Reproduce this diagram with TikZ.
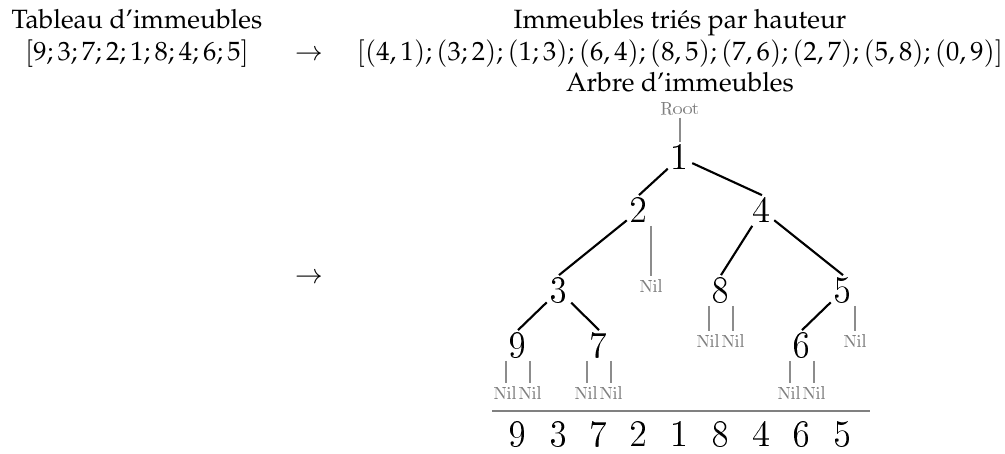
\documentclass[tikz,border=0pt]{standalone}
\usepackage[T1]{fontenc}
\usepackage{mathpazo}
\usetikzlibrary{calc}

% Latin Modern for the tree labels
\newcommand\treedigits{\fontsize{14.4}{17}\usefont{T1}{lmr}{m}{n}}
\newcommand\treesmall{\fontsize{10}{12}\usefont{T1}{lmr}{m}{n}}

\tikzset{
  tn/.style={font=\treedigits, inner sep=1pt},
  nil/.style={font=\treesmall, text=black!50, inner sep=1.4pt, scale=0.7, transform shape, anchor=north},
  rootlbl/.style={font=\treesmall, text=black!50, inner sep=1.4pt, scale=0.7, transform shape, anchor=base},
  edge/.style={draw=black, line width=0.8pt},
  niledge/.style={draw=black!45, line width=0.75pt},
  rule/.style={draw=black!50, line width=0.9pt},
  txt/.style={anchor=base, inner sep=0pt}
}

\begin{document}
\begin{tikzpicture}[x=0.378pt, y=-0.378pt]
\useasboundingbox (0,0) rectangle (1005,454);

% headings and sorted lists
\node[txt] (t1) at (137,29) {Tableau d'immeubles};
\node[txt] (t2) at (137,61) {$[9;3;7;2;1;8;4;6;5]$};
\node[txt] (a1) at (309,61) {$\rightarrow$};
\node[txt] (t3) at (680,29) {Immeubles tri\'es par hauteur};
\node[txt] (t4) at (680,61) {$[(4,1);(3;2);(1;3);(6,4);(8,5);(7,6);(2,7);(5,8);(0,9)]$};
\node[txt] (t5) at (680,92) {Arbre d'immeubles};
\node[txt] (a2) at (309,283.6) {$\rightarrow$};

% tree nodes
\node[rootlbl] (root) at (680,114.6) {Root};
\node[tn] (n1) at (680,157.5) {1};
\node[tn] (n2) at (639,210.5) {2};
\node[tn] (n4) at (762,210.5) {4};
\node[tn] (n3) at (559,290.5) {3};
\node[tn] (n8) at (721,290.5) {8};
\node[tn] (n5) at (843,290.5) {5};
\node[tn] (n9) at (518,345.5) {9};
\node[tn] (n7) at (599,345.5) {7};
\node[tn] (n6) at (802,345.5) {6};

% empty subtrees
\node[nil] (l2)  at ($(n2.south east)+(0,50.5)$) {Nil};
\node[nil] (l8a) at ($(n8.south west)+(0,25.5)$) {Nil};
\node[nil] (l8b) at ($(n8.south east)+(0,25.5)$) {Nil};
\node[nil] (l5)  at ($(n5.south east)+(0,25.5)$) {Nil};
\node[nil] (l9a) at ($(n9.south west)+(0,22.5)$) {Nil};
\node[nil] (l9b) at ($(n9.south east)+(0,22.5)$) {Nil};
\node[nil] (l7a) at ($(n7.south west)+(0,22.5)$) {Nil};
\node[nil] (l7b) at ($(n7.south east)+(0,22.5)$) {Nil};
\node[nil] (l6a) at ($(n6.south west)+(0,22.5)$) {Nil};
\node[nil] (l6b) at ($(n6.south east)+(0,22.5)$) {Nil};

% tree edges
\draw[niledge] (root) -- (n1);
\draw[edge] (n1) -- (n2.north);
\draw[edge] (n1) -- (n4.north);
\draw[edge] (n2) -- (n3.north);
\draw[edge] (n4) -- (n8.north);
\draw[edge] (n4) -- (n5.north);
\draw[edge] (n3) -- (n9.north);
\draw[edge] (n3) -- (n7.north);
\draw[edge] (n5) -- (n6.north);

\draw[niledge] (n2.south east) -- (l2);
\draw[niledge] (n8.south west) -- (l8a);
\draw[niledge] (n8.south east) -- (l8b);
\draw[niledge] (n5.south east) -- (l5);
\draw[niledge] (n9.south west) -- (l9a);
\draw[niledge] (n9.south east) -- (l9b);
\draw[niledge] (n7.south west) -- (l7a);
\draw[niledge] (n7.south east) -- (l7b);
\draw[niledge] (n6.south west) -- (l6a);
\draw[niledge] (n6.south east) -- (l6b);

% in-order projection below the tree
\coordinate (ra) at (492,411);
\coordinate (rb) at (870,411);
\draw[rule] (ra) -- (rb);
\coordinate (bl) at (0,434.5);
\node[tn] (b1) at (n9 |- bl) {9};
\node[tn] (b2) at (n3 |- bl) {3};
\node[tn] (b3) at (n7 |- bl) {7};
\node[tn] (b4) at (n2 |- bl) {2};
\node[tn] (b5) at (n1 |- bl) {1};
\node[tn] (b6) at (n8 |- bl) {8};
\node[tn] (b7) at (n4 |- bl) {4};
\node[tn] (b8) at (n6 |- bl) {6};
\node[tn] (b9) at (n5 |- bl) {5};
\end{tikzpicture}
\end{document}
